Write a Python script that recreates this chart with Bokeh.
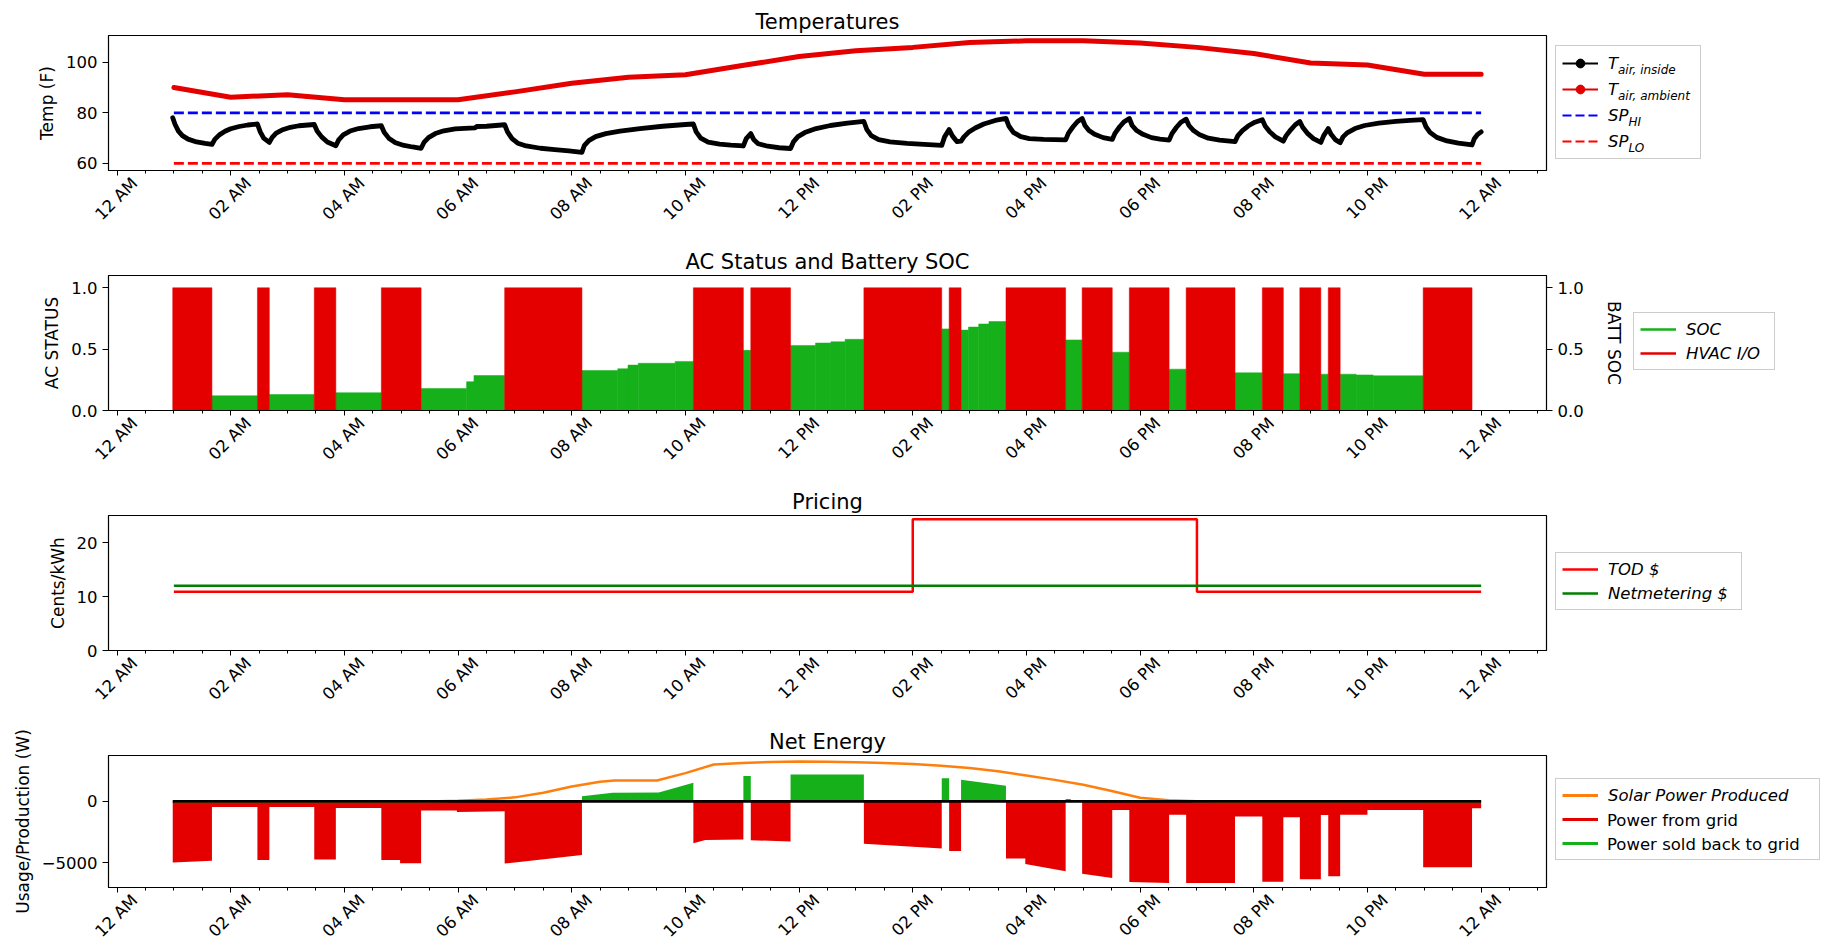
from math import pi
from bokeh.plotting import figure
from bokeh.models import (Range1d, FixedTicker, LinearAxis, Legend, LegendItem, Label,
                          PrintfTickFormatter)
from bokeh.layouts import column, row
from bokeh.embed import file_html
from bokeh.resources import INLINE

FONT = "DejaVu Sans"
RED = "#e50000"
GREEN = "#15b01a"
ORANGE = "#ff7f0e"

# ---------------- data ----------------
tick_hours = list(range(0, 25, 2))
tick_labels = ["12 AM", "02 AM", "04 AM", "06 AM", "08 AM", "10 AM", "12 PM",
               "02 PM", "04 PM", "06 PM", "08 PM", "10 PM", "12 AM"]
minor_hours = [k / 2 for k in range(0, 51) if k % 4 != 0]

# ambient temperature (F)
amb_t = [1, 2, 3, 4, 5, 6, 7, 8, 9, 10, 11, 12, 13, 14, 15, 16, 17, 18, 19, 20, 21, 22, 23, 24]
amb_T = [90.0, 86.2, 87.2, 85.2, 85.2, 85.2, 88.3, 91.7, 94.1, 95.1, 98.7, 102.3,
         104.6, 105.9, 107.8, 108.5, 108.5, 107.6, 105.9, 103.5, 99.7, 98.9, 95.3, 95.3]

# inside air temperature (F)
in_t = [0.98, 1.02, 1.08, 1.15, 1.25, 1.4, 1.55, 1.67,
        1.72, 1.8, 1.9, 2.0, 2.15, 2.3, 2.47,
        2.52, 2.58, 2.68,
        2.73, 2.8, 2.9, 3.05, 3.2, 3.47,
        3.52, 3.6, 3.7, 3.85,
        3.9, 3.98, 4.1, 4.25, 4.45, 4.65,
        4.7, 4.78, 4.9, 5.05, 5.2, 5.35,
        5.4, 5.48, 5.6, 5.75, 5.95, 6.2, 6.3, 6.33, 6.5, 6.82,
        6.87, 6.95, 7.05, 7.2, 7.45, 7.7, 7.95, 8.18,
        8.22, 8.3, 8.42, 8.6, 8.85, 9.2, 9.6, 10.0, 10.14,
        10.19, 10.27, 10.4, 10.6, 10.8, 11.02,
        11.07, 11.15,
        11.2, 11.28, 11.45, 11.65, 11.85,
        11.9, 11.98, 12.1, 12.3, 12.55, 12.85, 13.14,
        13.19, 13.27, 13.4, 13.6, 13.9, 14.2, 14.51,
        14.56, 14.64,
        14.7, 14.78, 14.85,
        14.9, 14.98, 15.1, 15.25, 15.45, 15.64,
        15.69, 15.77, 15.9, 16.05, 16.3, 16.69,
        16.74, 16.82, 16.9, 16.98,
        17.03, 17.1, 17.2, 17.35, 17.51,
        17.56, 17.64, 17.72, 17.81,
        17.86, 17.94, 18.05, 18.2, 18.35, 18.51,
        18.56, 18.64, 18.72, 18.81,
        18.86, 18.94, 19.05, 19.2, 19.4, 19.67,
        19.72, 19.8, 19.9, 20.02, 20.15,
        20.2, 20.28, 20.38, 20.52,
        20.57, 20.65, 20.73, 20.81,
        20.86, 20.94, 21.05, 21.18,
        21.23, 21.31,
        21.36, 21.44, 21.52,
        21.57, 21.65, 21.78, 21.95, 22.2, 22.5, 22.75, 22.98,
        23.03, 23.1, 23.22, 23.4, 23.6, 23.84,
        23.88, 23.94, 24.0]
in_T = [78.1, 75.5, 72.8, 71.0, 69.6, 68.5, 67.9, 67.5,
        69.5, 71.3, 72.7, 73.7, 74.6, 75.2, 75.6,
        72.5, 70.0, 68.3,
        70.3, 72.0, 73.2, 74.3, 74.9, 75.4,
        72.8, 70.5, 68.5, 67.0,
        69.3, 71.3, 72.8, 73.8, 74.5, 74.9,
        72.3, 70.0, 68.2, 67.1, 66.5, 66.0,
        68.3, 70.2, 71.8, 72.9, 73.7, 74.0, 74.1, 74.6, 74.7, 75.3,
        72.5, 69.8, 68.0, 66.9, 66.0, 65.5, 65.0, 64.4,
        67.0, 69.0, 70.6, 71.8, 72.8, 73.8, 74.7, 75.4, 75.6,
        72.5, 70.0, 68.4, 67.6, 67.2, 66.9,
        69.8, 71.8,
        69.5, 67.8, 66.8, 66.2, 65.9,
        68.5, 70.6, 72.2, 73.8, 75.0, 75.9, 76.6,
        73.5, 71.0, 69.4, 68.5, 67.9, 67.5, 67.1,
        70.5, 73.4,
        70.8, 68.6, 68.8,
        70.5, 72.3, 74.0, 75.6, 77.0, 77.8,
        74.8, 72.3, 70.6, 69.8, 69.5, 69.3,
        72.0, 74.5, 76.6, 77.8,
        75.0, 73.0, 71.5, 70.2, 69.5,
        72.0, 74.5, 76.5, 77.8,
        75.0, 73.0, 71.5, 70.2, 69.6, 69.2,
        71.8, 74.3, 76.3, 77.5,
        75.0, 73.0, 71.3, 70.0, 69.2, 68.6,
        71.0, 73.0, 74.8, 76.3, 77.3,
        74.8, 72.5, 70.5, 68.8,
        71.0, 73.3, 75.3, 76.6,
        74.3, 72.0, 69.8, 68.3,
        71.0, 73.8,
        71.5, 69.3, 68.2,
        70.5, 72.2, 73.8, 75.0, 75.9, 76.6, 77.0, 77.3,
        74.5, 72.3, 70.3, 68.9, 68.0, 67.3,
        69.8, 71.5, 72.5]

sp_t = [1.0, 24.0]
sp_hi = [80, 80]
sp_lo = [60, 60]

# HVAC on intervals (hours)
hvac_start = [0.98, 2.47, 3.47, 4.65, 6.82, 10.14, 11.15, 13.14, 14.64, 15.64,
              16.98, 17.81, 18.81, 20.15, 20.81, 21.31, 22.98]
hvac_end = [1.67, 2.68, 3.85, 5.35, 8.18, 11.02, 11.85, 14.51, 14.85, 16.69,
            17.51, 18.51, 19.67, 20.52, 21.18, 21.52, 23.84]
hvac_state = [1] * len(hvac_start)

# battery state of charge (visible steps)
soc_start = [1.67, 2.68, 3.85, 5.35, 6.15, 6.28, 8.18, 8.81, 8.99, 9.17, 9.82, 11.02,
             11.85, 12.29, 12.56, 12.81, 14.51, 14.85, 14.98, 15.16, 15.34, 16.69,
             17.51, 18.51, 19.67, 20.52, 21.18, 21.52, 21.8, 22.1]
soc_end = [2.47, 3.47, 4.65, 6.15, 6.28, 6.82, 8.81, 8.99, 9.17, 9.82, 10.14, 11.15,
           12.29, 12.56, 12.81, 13.14, 14.64, 14.98, 15.16, 15.34, 15.64, 16.98,
           17.81, 18.81, 20.15, 20.81, 21.31, 21.8, 22.1, 22.98]
soc_val = [0.12, 0.13, 0.145, 0.18, 0.235, 0.285, 0.326, 0.34, 0.37, 0.385, 0.40, 0.49,
           0.53, 0.55, 0.56, 0.58, 0.665, 0.655, 0.68, 0.705, 0.725, 0.575,
           0.475, 0.337, 0.307, 0.30, 0.296, 0.296, 0.29, 0.283]

# pricing (cents/kWh)
tod_t = [1.0, 14.0, 19.0, 24.0]
tod_price = [10.9, 24.3, 10.9, 10.9]
nm_t = [1.0, 24.0]
nm_price = [12.0, 12.0]

# net energy (W): grid exchange, negative = bought, positive = sold
net_t = [0.98, 1.67, 1.67, 2.47, 2.47, 2.68, 2.68, 3.47, 3.47, 3.85, 3.85, 4.65, 4.65, 4.98,
         4.98, 5.35, 5.35, 5.98, 5.98, 6.82, 6.82, 8.18, 8.18, 8.72, 9.53, 10.14, 10.14, 10.35,
         11.02, 11.02, 11.15, 11.15, 11.85, 11.85, 13.14, 13.14, 14.51, 14.51, 14.64, 14.64,
         14.85, 14.85, 15.64, 15.64, 15.98, 15.98, 16.69, 16.69, 16.78, 16.78, 16.98, 16.98,
         17.51, 17.51, 17.81, 17.81, 18.51, 18.51, 18.81, 18.81, 19.67, 19.67, 20.15, 20.15,
         20.52, 20.52, 20.81, 20.81, 21.18, 21.18, 21.31, 21.31, 21.52, 21.52, 22.0, 22.0,
         22.98, 22.98, 23.84, 23.84, 24.0]
net_w = [-4950, -4810, -450, -450, -4760, -4760, -450, -450, -4710, -4710, -530, -530, -4760, -4760,
         -5030, -5030, -745, -745, -850, -800, -5050, -4360, 425, 700, 720, 1520, -3400, -3140,
         -3090, 2075, 2075, -3150, -3250, 2180, 2180, -3430, -3830, 1890, 1890, -4020,
         -4020, 1755, 1280, -4630, -4630, -5080, -5670, 190, 190, 0, 0, -5880,
         -6220, -690, -690, -6550, -6620, -1090, -1090, -6620, -6620, -1220, -1220, -6520,
         -6520, -1280, -1280, -6330, -6330, -1100, -1100, -6080, -6080, -1090, -1090, -700,
         -700, -5350, -5350, -560, -560]
grid_buy = [min(w, 0) for w in net_w]
grid_sell = [max(w, 0) for w in net_w]
zero_t = [0.98, 24.0]
zero_w = [0, 0]

solar_t = [1, 2, 3, 4, 5, 5.5, 6, 6.5, 7, 7.5, 8, 8.5, 8.75, 9, 9.5, 10, 10.5, 11, 11.5, 12,
           12.5, 13, 13.5, 14, 14.5, 15, 15.5, 16, 16.5, 17, 17.5, 18, 18.5, 19, 19.5,
           20, 21, 22, 23, 24]
solar_w = [0, 0, 0, 0, 0, 0, 60, 150, 330, 700, 1220, 1600, 1700, 1700, 1700, 2300, 3000, 3120,
           3200, 3250, 3230, 3180, 3120, 3030, 2900, 2720, 2450, 2100, 1750, 1350, 850, 300,
           100, 20, 0, 0, 0, 0, 0, 0]

# ---------------- helpers ----------------
LEFT = 108          # frame left edge (px)
FRAME_RIGHT = 1546  # frame right edge (px)
TOTAL_W = 1825
LABEL_SHIFT = 0.31  # shift of rotated tick labels so they centre on their ticks


def make_fig(title, ylabel, yr, yticks, width, height, top, bottom):
    p = figure(width=width, height=height, x_range=Range1d(-0.15, 25.15), y_range=Range1d(*yr),
               output_backend="svg", toolbar_location=None,
               min_border_left=LEFT, min_border_right=width - FRAME_RIGHT,
               min_border_top=top, min_border_bottom=bottom)
    p.title.text = title
    p.title.align = "center"
    p.title.text_font = FONT
    p.title.text_font_size = "21px"
    p.title.text_font_style = "normal"
    p.title.text_color = "black"
    p.title.standoff = 3
    p.grid.visible = False
    p.outline_line_color = "black"
    p.outline_line_width = 1.2
    p.outline_line_alpha = 1.0
    p.background_fill_color = "white"

    xa = p.xaxis[0]
    xa.ticker = FixedTicker(ticks=tick_hours, minor_ticks=minor_hours)
    xa.major_label_overrides = {h: "" for h in tick_hours}
    xa.major_label_text_font_size = "1px"
    xa.major_label_standoff = 0
    xa.major_tick_out = 5
    xa.major_tick_in = 0
    xa.minor_tick_out = 3
    xa.minor_tick_in = 0
    xa.axis_line_color = "black"
    xa.major_tick_line_color = "black"
    xa.minor_tick_line_color = "black"

    lab_ticks = [h + LABEL_SHIFT for h in tick_hours]
    xl = LinearAxis(ticker=FixedTicker(ticks=lab_ticks, minor_ticks=[]))
    xl.major_label_overrides = dict(zip(lab_ticks, tick_labels))
    xl.major_label_orientation = pi / 4
    xl.major_label_text_font = FONT
    xl.major_label_text_font_size = "16.5px"
    xl.major_label_text_color = "black"
    xl.major_label_standoff = 5
    xl.major_tick_out = 0
    xl.major_tick_in = 0
    xl.minor_tick_out = 0
    xl.minor_tick_in = 0
    xl.axis_line_color = None
    xl.major_tick_line_color = None
    xl.minor_tick_line_color = None
    p.add_layout(xl, "below")

    ya = p.yaxis[0]
    ya.ticker = FixedTicker(ticks=yticks)
    ya.axis_label = ylabel
    ya.axis_label_text_font = FONT
    ya.axis_label_text_font_size = "17px"
    ya.axis_label_text_font_style = "normal"
    ya.axis_label_text_color = "black"
    ya.axis_label_standoff = 6
    ya.major_label_text_font = FONT
    ya.major_label_text_font_size = "16.5px"
    ya.major_label_text_color = "black"
    ya.major_tick_out = 6
    ya.major_tick_in = 0
    ya.minor_tick_line_color = None
    ya.axis_line_color = "black"
    return p


def legend_fig(width, height):
    # legend holder: its ranges lie far from any data, so the proxy glyphs stay out of sight
    f = figure(width=width, height=height, x_range=Range1d(-1000, -999),
               y_range=Range1d(-100000, -99999),
               output_backend="svg", toolbar_location=None,
               x_axis_location=None, y_axis_location=None,
               min_border_left=0, min_border_right=0, min_border_top=0, min_border_bottom=0)
    f.outline_line_color = None
    f.grid.visible = False
    f.xgrid.grid_line_color = None
    f.ygrid.grid_line_color = None
    f.background_fill_color = "white"
    f.border_fill_color = "white"
    return f


def add_legend(f, items, x, y, label_width, label_height=20, italic=True, box=True):
    lg = Legend(items=items, location=(x, y), orientation="vertical",
                padding=6, spacing=4, margin=0, glyph_width=36, glyph_height=label_height,
                label_standoff=10, label_width=label_width, label_height=label_height,
                label_text_font=FONT, label_text_font_size="16.5px",
                label_text_font_style="italic" if italic else "normal",
                label_text_color="black",
                border_line_color="#cccccc", border_line_width=1.2,
                border_line_alpha=1.0 if box else 0.0,
                background_fill_color="white", background_fill_alpha=0.0)
    f.add_layout(lg)
    return lg


# ---------------- panel 1: temperatures ----------------
H1 = 240
p1 = make_fig("Temperatures", "Temp (F)", (57.2, 110.6), [60, 80, 100], 1553, H1, 35, 70)
p1.line(amb_t, amb_T, line_color=RED, line_width=5, line_cap="round", line_join="round")
p1.line(in_t, in_T, line_color="black", line_width=4.8, line_cap="round", line_join="round")
p1.line(sp_t, sp_hi, line_color="#0000ff", line_width=2.6, line_dash="10 4")
p1.line(sp_t, sp_lo, line_color="#ff0000", line_width=2.6, line_dash="10 4")

g1 = legend_fig(TOTAL_W - 1553, H1)
lin = g1.line(in_t, in_T, line_color="black", line_width=2)
din = g1.scatter(in_t[:1], in_T[:1], marker="circle", size=6, fill_color="black", line_color="black")
lam = g1.line(amb_t, amb_T, line_color=RED, line_width=2)
dam = g1.scatter(amb_t[:1], amb_T[:1], marker="circle", size=6, fill_color=RED, line_color=RED)
lhi = g1.line(sp_t, sp_hi, line_color="#0000ff", line_width=2, line_dash="9 4")
llo = g1.line(sp_t, sp_lo, line_color="#ff0000", line_width=2, line_dash="9 4")
L1X, L1Y = 2, 11
add_legend(g1, [LegendItem(label="T", renderers=[lin, din]),
                LegendItem(label="T", renderers=[lam, dam]),
                LegendItem(label="SP", renderers=[lhi]),
                LegendItem(label="SP", renderers=[llo])],
           L1X, L1Y, 86, label_height=22)
text_x = L1X + 6 + 36 + 10
subs = [("air, inside", 10.5), ("air, ambient", 10.5), ("HI", 21), ("LO", 21)]
top1 = L1Y + 12 + 4 * 22 + 3 * 4
for i, (s, dx) in enumerate(subs):
    cy = top1 - 6 - 11 - i * 26
    g1.add_layout(Label(x=text_x + dx, y=cy - 5, x_units="screen", y_units="screen", text=s,
                        text_font=FONT, text_font_size="12px", text_font_style="italic",
                        text_baseline="middle", text_align="left", text_color="black"))

# ---------------- panel 2: AC status and SOC ----------------
H2 = 240
p2 = make_fig("AC Status and Battery SOC", "AC STATUS", (0, 1.1), [0, 0.5, 1.0], 1631, H2, 35, 70)
p2.yaxis[0].formatter = PrintfTickFormatter(format="%.1f")
p2.extra_y_ranges = {"soc": Range1d(0, 1.1)}
p2.quad(left=soc_start, right=soc_end, bottom=0, top=soc_val, y_range_name="soc",
        fill_color=GREEN, line_color=GREEN, line_width=0.5)
p2.quad(left=hvac_start, right=hvac_end, bottom=0, top=hvac_state,
        fill_color=RED, line_color=RED, line_width=0.5)
ax2 = LinearAxis(y_range_name="soc", axis_label="BATT SOC", ticker=FixedTicker(ticks=[0, 0.5, 1.0]),
                 formatter=PrintfTickFormatter(format="%.1f"))
ax2.axis_label_text_font = FONT
ax2.axis_label_text_font_size = "17px"
ax2.axis_label_text_font_style = "normal"
ax2.axis_label_text_color = "black"
ax2.axis_label_standoff = 17
ax2.major_label_text_font = FONT
ax2.major_label_text_font_size = "16.5px"
ax2.major_label_text_color = "black"
ax2.major_tick_out = 6
ax2.major_tick_in = 0
ax2.minor_tick_line_color = None
p2.add_layout(ax2, "right")

g2 = legend_fig(TOTAL_W - 1631, H2)
lsoc = g2.line(soc_start, soc_val, line_color=GREEN, line_width=2.5)
lhv = g2.line(hvac_start, hvac_state, line_color=RED, line_width=2.5)
add_legend(g2, [LegendItem(label="SOC", renderers=[lsoc]),
                LegendItem(label="HVAC I/O", renderers=[lhv])], 2, 40, 82)

# ---------------- panel 3: pricing ----------------
H3 = 240
p3 = make_fig("Pricing", "Cents/kWh", (0, 25), [0, 10, 20], 1553, H3, 35, 70)
p3.step(tod_t, tod_price, mode="after", line_color="#ff0000", line_width=2.5)
p3.line(nm_t, nm_price, line_color="#008000", line_width=2.5)

g3 = legend_fig(TOTAL_W - 1553, H3)
ltod = g3.line(tod_t, tod_price, line_color="#ff0000", line_width=2.5)
lnm = g3.line(nm_t, nm_price, line_color="#008000", line_width=2.5)
add_legend(g3, [LegendItem(label="TOD $", renderers=[ltod]),
                LegendItem(label="Netmetering $", renderers=[lnm])], 2, 40, 127)

# ---------------- panel 4: net energy ----------------
H4 = 230
p4 = make_fig("Net Energy", "Usage/Production (W)", (-6990, 3730), [-5000, 0], 1553, H4, 35, 61)
p4.yaxis[0].major_label_overrides = {-5000: "\u22125000", 0: "0"}
p4.varea(x=net_t, y1=0, y2=grid_buy, fill_color=RED)
p4.varea(x=net_t, y1=0, y2=grid_sell, fill_color=GREEN)
p4.line(solar_t, solar_w, line_color=ORANGE, line_width=2.5)
p4.line(zero_t, zero_w, line_color="black", line_width=2.8)

g4 = legend_fig(TOTAL_W - 1553, H4)
lso = g4.line(solar_t, solar_w, line_color=ORANGE, line_width=3)
lgr = g4.line(net_t, grid_buy, line_color=RED, line_width=3)
lsd = g4.line(net_t, grid_sell, line_color=GREEN, line_width=3)
blank = g4.line(zero_t, zero_w, line_alpha=0)
add_legend(g4, [LegendItem(label="Solar Power Produced", renderers=[lso]),
                LegendItem(label=" ", renderers=[lgr]),
                LegendItem(label=" ", renderers=[lsd])], 2, 27, 205)
add_legend(g4, [LegendItem(label=" ", renderers=[blank]),
                LegendItem(label="Power from grid", renderers=[blank]),
                LegendItem(label="Power sold back to grid", renderers=[blank])],
           2, 27, 205, italic=False, box=False)

layout = column(row(p1, g1, spacing=0), row(p2, g2, spacing=0),
                row(p3, g3, spacing=0), row(p4, g4, spacing=0), spacing=0)
open("out.html", "w").write(file_html(layout, INLINE))
